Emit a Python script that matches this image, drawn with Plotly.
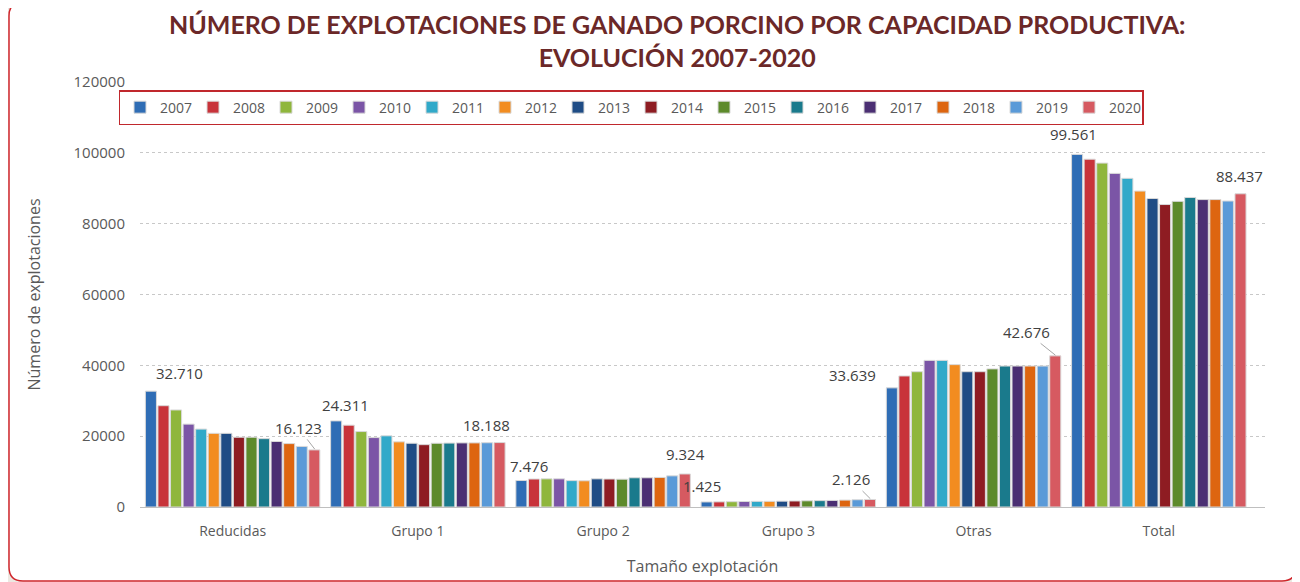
import plotly.graph_objects as go

# ---------------------------------------------
# DATA
# ---------------------------------------------
categorias = ["Reducidas", "Grupo 1", "Grupo 2", "Grupo 3", "Otras", "Total"]

anios = ["2007", "2008", "2009", "2010", "2011", "2012", "2013",
         "2014", "2015", "2016", "2017", "2018", "2019", "2020"]

reducidas = [32710, 28600, 27400, 23400, 22000, 20800, 20800,
             19700, 19700, 19300, 18500, 17900, 17100, 16123]
grupo_1 = [24311, 23100, 21300, 19600, 20100, 18400, 18000,
           17600, 18000, 18050, 18100, 18100, 18150, 18188]
grupo_2 = [7476, 7900, 7950, 7950, 7450, 7400, 7950,
           7900, 7850, 8250, 8250, 8350, 8800, 9324]
grupo_3 = [1425, 1450, 1500, 1550, 1600, 1600, 1650,
           1700, 1750, 1800, 1850, 1950, 2050, 2126]
otras = [33639, 37000, 38200, 41400, 41400, 40200, 38200,
         38200, 39000, 39800, 39800, 39800, 39800, 42676]
total = [99561, 98200, 97100, 94200, 92800, 89200, 87100,
         85400, 86300, 87400, 86800, 86800, 86400, 88437]

colores = ["#2f6db5", "#c8333a", "#8fb63c", "#7b55a6", "#31a9c9", "#f28c20", "#1f4c85",
           "#8e1c22", "#5d8a2b", "#1a7a8c", "#4b2f73", "#dd6510", "#5a9ad8", "#d65a61"]

valores = [reducidas, grupo_1, grupo_2, grupo_3, otras, total]

# -----------------------------------
# LABELS (first and last year only)
# label offset from bar top in px, and whether a leader line is drawn
# -----------------------------------
offset_2007 = [(30, -18), (10, -16), (9, -15), (-4, -16), (-38, -13), (-3, -20)]
offset_2020 = [(-17, -22), (-14, -18), (0, -20), (-20, -20), (-30, -24), (-2, -18)]
linea_2020 = [True, False, False, True, True, False]

# -----------------------------------
# LAYOUT GEOMETRY
# -----------------------------------
W, H = 1292, 574
ml, mr, mt, mb = 132, 35, 74, 75
pw, ph = W - ml - mr, H - mt - mb
bargap = 0.05
bargroupgap = 0.12

fig = go.Figure()

for i, anio in enumerate(anios):
    fig.add_trace(go.Bar(
        name=anio,
        x=categorias,
        y=[serie[i] for serie in valores],
        marker=dict(color=colores[i], line=dict(color="#d9d9d9", width=1)),
    ))

# bar centre offset inside a group, from the layout gaps
slot = (pw / len(categorias)) * (1 - bargap) / len(anios)


def bar_shift(idx):
    return (idx - (len(anios) - 1) / 2) * slot


def fmt(v):
    return f"{v:,}".replace(",", ".")


anotaciones = []
for j, cat in enumerate(categorias):
    for idx, offs, linea in [(0, offset_2007[j], False), (len(anios) - 1, offset_2020[j], linea_2020[j])]:
        anotaciones.append(dict(
            x=cat,
            y=valores[j][idx],
            xref="x",
            yref="y",
            xshift=bar_shift(idx),
            text=fmt(valores[j][idx]),
            showarrow=True,
            arrowhead=0,
            arrowwidth=1,
            arrowcolor="#a6a6a6" if linea else "rgba(0,0,0,0)",
            standoff=1,
            ax=offs[0],
            ay=offs[1],
            font=dict(size=15, color="#404040"),
        ))

# rounded frame around the whole chart


def px2paper(x, y):
    return (x - ml) / pw, 1 - (y - mt) / ph


x0, y0 = px2paper(1, -6)
x1, y1 = px2paper(1288, 573)
rx = 14 / pw
ry = 14 / ph
marco = (f"M {x0 + rx},{y0} L {x1 - rx},{y0} Q {x1},{y0} {x1},{y0 - ry} "
         f"L {x1},{y1 + ry} Q {x1},{y1} {x1 - rx},{y1} "
         f"L {x0 + rx},{y1} Q {x0},{y1} {x0},{y1 + ry} "
         f"L {x0},{y0 - ry} Q {x0},{y0} {x0 + rx},{y0} Z")

fig.update_layout(
    width=W,
    height=H,
    margin=dict(l=ml, r=mr, t=mt, b=mb),
    paper_bgcolor="#ece8e2",
    plot_bgcolor="rgba(0,0,0,0)",
    font=dict(family="Open Sans, Liberation Sans, sans-serif", color="#595959"),
    barmode="group",
    bargap=bargap,
    bargroupgap=bargroupgap,
    title=dict(
        text="NÚMERO DE EXPLOTACIONES DE GANADO PORCINO POR CAPACIDAD PRODUCTIVA:<br>EVOLUCIÓN 2007-2020",
        x=0.518,
        xanchor="center",
        y=0.954,
        yanchor="middle",
        font=dict(family="Lato, Noto Sans, sans-serif", size=25, color="#6b2828", weight="bold"),
    ),
    legend=dict(
        orientation="h",
        x=0.892,
        y=0.981,
        xanchor="right",
        yanchor="top",
        bgcolor="white",
        bordercolor="#c0282d",
        borderwidth=1.5,
        font=dict(size=14, color="#595959"),
        entrywidth=28,
        itemwidth=30,
        traceorder="normal",
    ),
    annotations=anotaciones,
    shapes=[dict(
        type="path",
        path=marco,
        xref="paper",
        yref="paper",
        fillcolor="white",
        line=dict(color="#d0262c", width=1.5),
        layer="below",
    )],
    showlegend=True,
)

fig.update_yaxes(
    range=[0, 120000],
    dtick=20000,
    tickformat="d",
    showgrid=True,
    gridcolor="#c8c8c8",
    griddash="dot",
    zeroline=False,
    showline=False,
    automargin=False,
    tickfont=dict(size=15, color="#595959"),
    ticklabelstandoff=14,
    title=dict(text="Número de explotaciones", font=dict(size=16, color="#595959"), standoff=28),
)

fig.update_xaxes(
    showline=True,
    linecolor="#bfbfbf",
    linewidth=1,
    ticks="",
    automargin=False,
    ticklabelstandoff=11,
    tickfont=dict(size=14, color="#595959"),
    title=dict(text="Tamaño explotación", font=dict(size=16, color="#595959"), standoff=22),
)

fig.write_html("out.html")
